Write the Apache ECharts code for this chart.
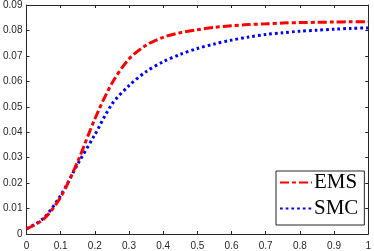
<!DOCTYPE html>
<html>
<head>
<meta charset="utf-8">
<script src="https://cdn.jsdelivr.net/npm/echarts@6/dist/echarts.min.js"></script>
<style>html,body{margin:0;padding:0;background:#fff}#c{width:374px;height:251px}</style>
</head>
<body>
<div id="c"></div>
<script>
var tValues = [0, 0.05, 0.1, 0.15, 0.2, 0.25, 0.3, 0.35, 0.4, 0.45, 0.5, 0.55, 0.6, 0.65, 0.7, 0.75, 0.8, 0.85, 0.9, 0.95, 1];
var emsValues = [0.0020, 0.0058, 0.0145, 0.0285, 0.0452, 0.0592, 0.0688, 0.0742, 0.0773, 0.0791, 0.0803, 0.0812, 0.0818, 0.0823, 0.0826, 0.0829, 0.0831, 0.0832, 0.0833, 0.0834, 0.0834];
var smcValues = [0.0020, 0.0062, 0.0152, 0.0275, 0.0390, 0.0510, 0.0583, 0.0638, 0.0677, 0.0706, 0.0729, 0.0747, 0.0762, 0.0774, 0.0784, 0.0791, 0.0797, 0.0801, 0.0805, 0.0808, 0.0810];
var seriesNames = ['EMS', 'SMC'];

function pairs(xs, ys) { return xs.map(function (x, i) { return [x, ys[i]]; }); }

var axisCol = '#262626';
var labelFont = { fontFamily: 'Liberation Sans', fontSize: 10, color: '#262626' };
var chart = echarts.init(document.getElementById('c'), null, { renderer: 'canvas' });
chart.setOption({
  animation: false,
  backgroundColor: '#fff',
  grid: { left: 25, right: 4, top: 4, bottom: 16.5, containLabel: false },
  xAxis: [
    { type: 'value', min: 0, max: 1, interval: 0.1, position: 'bottom',
      axisLine: { show: true, lineStyle: { color: axisCol, width: 1 } },
      axisTick: { show: true, inside: true, length: 3, lineStyle: { color: axisCol } },
      axisLabel: Object.assign({ margin: 7 }, labelFont),
      splitLine: { show: false } },
    { type: 'value', min: 0, max: 1, interval: 0.1, position: 'top',
      axisLine: { show: true, onZero: false, lineStyle: { color: axisCol, width: 1 } },
      axisTick: { show: true, inside: true, length: 3, lineStyle: { color: axisCol } },
      axisLabel: { show: false }, splitLine: { show: false } }
  ],
  yAxis: [
    { type: 'value', min: 0, max: 0.09, interval: 0.01, position: 'left',
      axisLine: { show: true, lineStyle: { color: axisCol, width: 1 } },
      axisTick: { show: true, inside: true, length: 3, lineStyle: { color: axisCol } },
      axisLabel: Object.assign({ margin: 4 }, labelFont),
      splitLine: { show: false } },
    { type: 'value', min: 0, max: 0.09, interval: 0.01, position: 'right',
      axisLine: { show: true, onZero: false, lineStyle: { color: axisCol, width: 1 } },
      axisTick: { show: true, inside: true, length: 3, lineStyle: { color: axisCol } },
      axisLabel: { show: false }, splitLine: { show: false } }
  ],
  legend: {
    show: true,
    orient: 'vertical',
    left: 276, top: 171,
    data: seriesNames,
    itemWidth: 32, itemHeight: 14, itemGap: 5,
    padding: [1, 6, 6, 3],
    borderColor: axisCol, borderWidth: 1, backgroundColor: '#fff',
    itemStyle: { opacity: 0 },
    textStyle: { fontFamily: 'Liberation Serif', fontSize: 21, color: '#000', padding: [0, 0, 0, -3] }
  },
  series: [
    { name: seriesNames[0], type: 'line', data: pairs(tValues, emsValues), smooth: 0.3,
      showSymbol: false, symbol: 'none', z: 3,
      lineStyle: { color: '#ff0000', width: 3, type: [9, 3, 4, 3], cap: 'butt' },
      itemStyle: { color: '#ff0000' } },
    { name: seriesNames[1], type: 'line', data: pairs(tValues, smcValues), smooth: 0.3,
      showSymbol: false, symbol: 'none', z: 2,
      lineStyle: { color: '#0000ff', width: 3, type: [2.7, 3], cap: 'butt' },
      itemStyle: { color: '#0000ff' } }
  ]
});
</script>
</body>
</html>
